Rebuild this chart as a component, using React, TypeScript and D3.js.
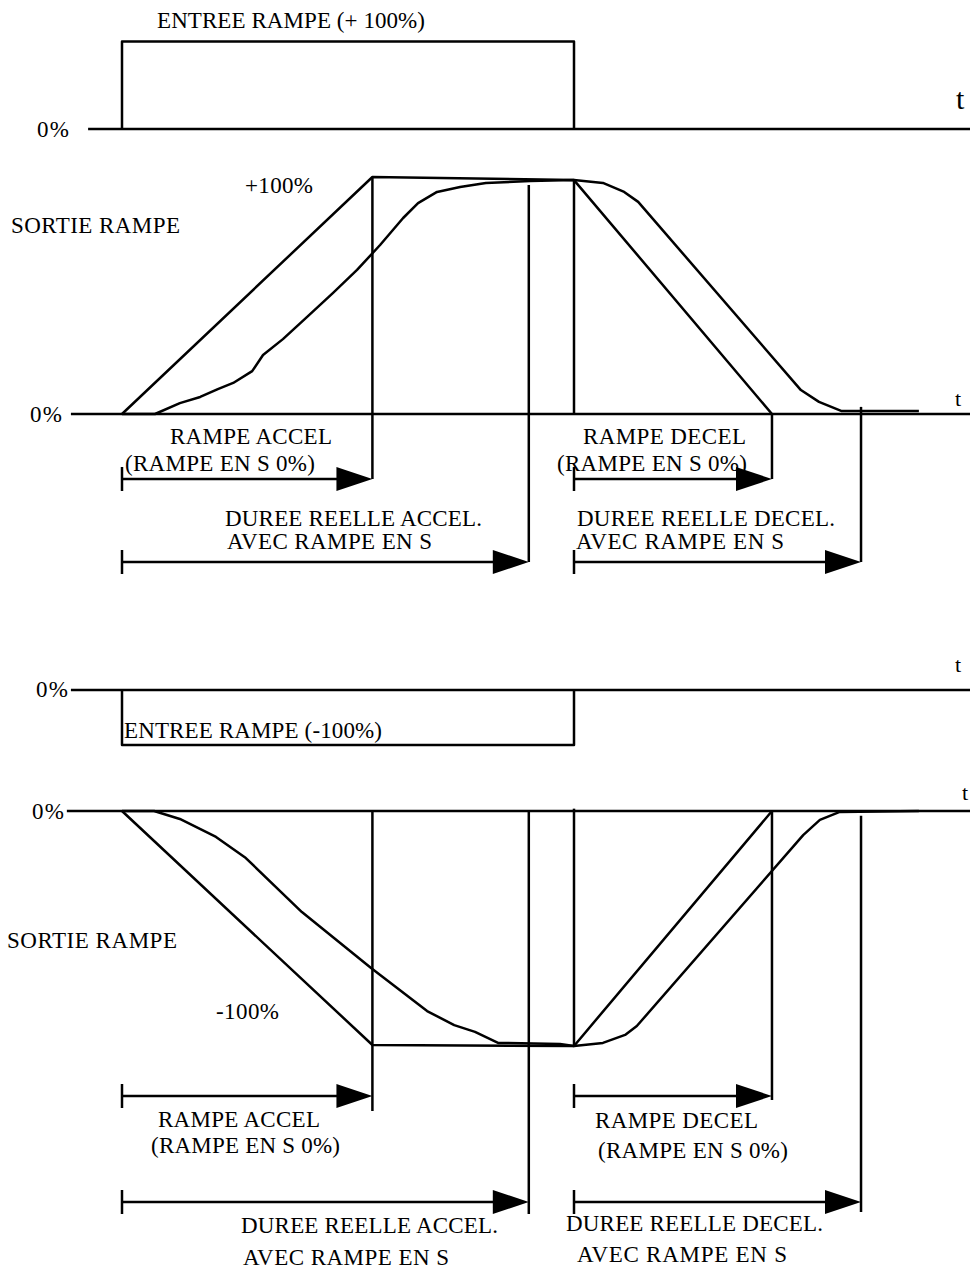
import React from "react";
import * as d3 from "d3";

// time in arbitrary units: the input step is on from t = 0 to t = 100
const accelEnd = 55.4;
const sAccelEnd = 90.0;
const inputOff = 100;
const decelEnd = 143.8;
const sDecelEnd = 163.5;

const inputLevels = [100, -100];

// [t, %]
const posRampLinear: [number, number][] = [[0, 0], [55.4, 100], [100, 98.7], [143.8, 0]];
const posRampS: [number, number][] = [
  [0, 0], [7.3, 0], [12.8, 4.6], [17.3, 7.2], [21.2, 10.5], [24.6, 13.1], [28.8, 18.1],
  [31.2, 24.9], [35.6, 31.6], [40.9, 40.9], [46.7, 51.1], [52.0, 60.8], [57.1, 71.3],
  [62.2, 82.7], [65.5, 89.0], [69.7, 93.7], [74.8, 95.8], [80.5, 97.5], [90.3, 98.3],
  [100, 98.7], [106.4, 97.5], [111.1, 93.7], [114.2, 89.5], [150.2, 10.1], [154.2, 5.1],
  [159.1, 1.3], [176.3, 1.3],
];
const negRampLinear: [number, number][] = [[0, 0], [55.4, -100], [100, -100.4], [143.8, 0]];
const negRampS: [number, number][] = [
  [0, 0], [7.1, 0], [12.8, -3.4], [20.8, -11.1], [27.4, -20.1], [39.8, -43.2], [55.1, -67.1],
  [67.5, -85.5], [73.5, -91.5], [78.1, -94.4], [83.2, -99.1], [96.9, -99.6], [100, -100.4],
  [106.4, -99.1], [111.3, -95.7], [113.9, -91.9], [150.7, -10.3], [154.4, -3.8], [158.8, -0.4],
  [176.3, 0],
];

const accelLabel = ["RAMPE ACCEL", "(RAMPE EN S 0%)"];
const decelLabel = ["RAMPE DECEL", "(RAMPE EN S 0%)"];
const sAccelLabel = ["DUREE REELLE ACCEL.", "AVEC RAMPE EN S"];
const sDecelLabel = ["DUREE REELLE DECEL.", "AVEC RAMPE EN S"];

const FONT = "'Liberation Serif', 'Times New Roman', serif";
const SW = 2.5;

const x = d3.scaleLinear().domain([0, 100]).range([122, 574]);
const yIn1 = d3.scaleLinear().domain([0, 100]).range([129, 41.5]);
const yOut1 = d3.scaleLinear().domain([0, 100]).range([414, 177]);
const yIn2 = d3.scaleLinear().domain([0, -100]).range([690, 745]);
const yOut2 = d3.scaleLinear().domain([0, -100]).range([811, 1045]);

function Label({ x, y, text, len, size = 23 }: { x: number; y: number; text: string; len?: number; size?: number }) {
  return (
    <text x={x} y={y} fontSize={size} fontFamily={FONT} fill="#000"
      textLength={len} lengthAdjust={len ? "spacing" : undefined}>
      {text}
    </text>
  );
}

// dimension arrow: tick at t0, filled head ending at t1
function DimArrow({ t0, t1, y }: { t0: number; t1: number; y: number }) {
  const x0 = x(t0), x1 = x(t1);
  return (
    <g>
      <line x1={x0} x2={x1 - 20} y1={y} y2={y} stroke="#000" strokeWidth={SW} />
      <line x1={x0} x2={x0} y1={y - 12} y2={y + 12} stroke="#000" strokeWidth={SW} />
      <path d={`M${x1},${y}L${x1 - 36},${y - 12}L${x1 - 36},${y + 12}Z`} fill="#000" />
    </g>
  );
}

function VLine({ t, y1, y2 }: { t: number; y1: number; y2: number }) {
  return <line x1={x(t)} x2={x(t)} y1={y1} y2={y2} stroke="#000" strokeWidth={SW} />;
}

function Curve({ data, y }: { data: [number, number][]; y: d3.ScaleLinear<number, number> }) {
  const gen = d3.line<[number, number]>().x(d => x(d[0])).y(d => y(d[1]));
  return <path d={gen(data) || ""} fill="none" stroke="#000" strokeWidth={SW} strokeLinejoin="round" />;
}

function StepInput({ level, y }: { level: number; y: d3.ScaleLinear<number, number> }) {
  const pts: [number, number][] = [[0, 0], [0, level], [inputOff, level], [inputOff, 0]];
  return <Curve data={pts} y={y} />;
}

function Baseline({ t0, y }: { t0: number; y: number }) {
  return <line x1={x(t0)} x2={970} y1={y} y2={y} stroke="#000" strokeWidth={SW} />;
}

export default function App() {
  const row1a = 479, row1b = 562;
  const row2a = 1096, row2b = 1202;
  return (
    <svg width={972} height={1272} style={{ position: "absolute", left: 0, top: 0, background: "#fff" }}>
      {/* input +100% */}
      <Label x={157} y={28} text="ENTREE RAMPE (+ 100%)" len={268} />
      <Label x={37} y={137} text="0%" len={32} />
      <Label x={956} y={109} text="t" size={30} />
      <Baseline t0={-7.5} y={yIn1(0)} />
      <StepInput level={inputLevels[0]} y={yIn1} />

      {/* output +100% */}
      <Label x={245} y={193} text="+100%" len={68} />
      <Label x={11} y={233} text="SORTIE RAMPE" len={169} />
      <Label x={30} y={422} text="0%" len={32} />
      <Label x={955} y={406} text="t" size={22} />
      <Baseline t0={-11.3} y={yOut1(0)} />
      <Curve data={posRampLinear} y={yOut1} />
      <Curve data={posRampS} y={yOut1} />
      <VLine t={accelEnd} y1={yOut1(100)} y2={row1a} />
      <VLine t={sAccelEnd} y1={yOut1(96.6)} y2={row1b} />
      <VLine t={inputOff} y1={yOut1(98.7)} y2={yOut1(0)} />
      <VLine t={decelEnd} y1={yOut1(0)} y2={row1a} />
      <VLine t={sDecelEnd} y1={yOut1(3)} y2={row1b} />
      <DimArrow t0={0} t1={accelEnd} y={row1a} />
      <DimArrow t0={0} t1={sAccelEnd} y={row1b} />
      <DimArrow t0={inputOff} t1={decelEnd} y={row1a} />
      <DimArrow t0={inputOff} t1={sDecelEnd} y={row1b} />
      <Label x={170} y={444} text={accelLabel[0]} len={162} />
      <Label x={125} y={471} text={accelLabel[1]} len={190} />
      <Label x={225} y={526} text={sAccelLabel[0]} len={257} />
      <Label x={227} y={549} text={sAccelLabel[1]} len={205} />
      <Label x={583} y={444} text={decelLabel[0]} len={163} />
      <Label x={557} y={471} text={decelLabel[1]} len={190} />
      <Label x={577} y={526} text={sDecelLabel[0]} len={258} />
      <Label x={576} y={549} text={sDecelLabel[1]} len={208} />

      {/* input -100% */}
      <Label x={36} y={697} text="0%" len={32} />
      <Label x={955} y={672} text="t" size={22} />
      <Baseline t0={-11.3} y={yIn2(0)} />
      <StepInput level={inputLevels[1]} y={yIn2} />
      <Label x={124} y={738} text="ENTREE RAMPE (-100%)" len={258} />

      {/* output -100% */}
      <Label x={32} y={819} text="0%" len={32} />
      <Label x={962} y={800} text="t" size={22} />
      <Label x={7} y={948} text="SORTIE RAMPE" len={170} />
      <Label x={216} y={1019} text="-100%" len={63} />
      <Baseline t0={-12.2} y={yOut2(0)} />
      <Curve data={negRampLinear} y={yOut2} />
      <Curve data={negRampS} y={yOut2} />
      <VLine t={accelEnd} y1={yOut2(0)} y2={row2a + 15} />
      <VLine t={sAccelEnd} y1={yOut2(0)} y2={row2b + 12} />
      <VLine t={inputOff} y1={yOut2(1)} y2={yOut2(-100.4)} />
      <VLine t={decelEnd} y1={yOut2(0)} y2={row2a + 4} />
      <VLine t={sDecelEnd} y1={yOut2(-2)} y2={row2b + 10} />
      <DimArrow t0={0} t1={accelEnd} y={row2a} />
      <DimArrow t0={0} t1={sAccelEnd} y={row2b} />
      <DimArrow t0={inputOff} t1={decelEnd} y={row2a} />
      <DimArrow t0={inputOff} t1={sDecelEnd} y={row2b} />
      <Label x={158} y={1127} text={accelLabel[0]} len={162} />
      <Label x={151} y={1153} text={accelLabel[1]} len={189} />
      <Label x={241} y={1233} text={sAccelLabel[0]} len={257} />
      <Label x={243} y={1265} text={sAccelLabel[1]} len={206} />
      <Label x={595} y={1128} text={decelLabel[0]} len={163} />
      <Label x={598} y={1158} text={decelLabel[1]} len={190} />
      <Label x={566} y={1231} text={sDecelLabel[0]} len={257} />
      <Label x={577} y={1262} text={sDecelLabel[1]} len={210} />
    </svg>
  );
}
